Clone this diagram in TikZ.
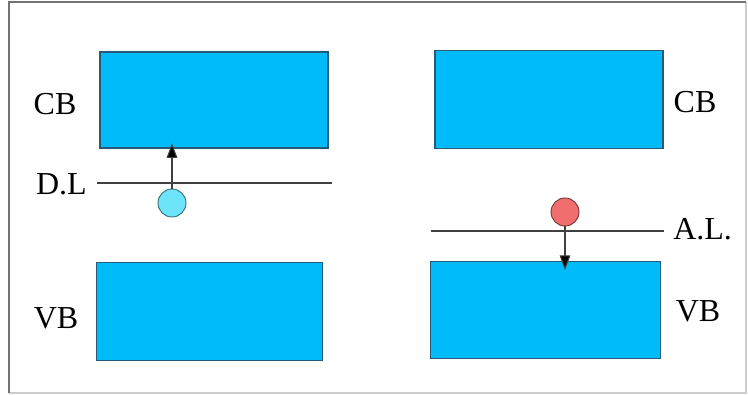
\documentclass[tikz,border=0pt]{standalone}
\usepackage{fontspec}
\setmainfont{Liberation Serif}
\usetikzlibrary{arrows.meta}
\definecolor{bandblue}{RGB}{0,187,250}
\definecolor{bandedge}{RGB}{40,90,120}
\definecolor{donorc}{RGB}{110,228,250}
\definecolor{acceptc}{RGB}{240,110,110}
\tikzset{
  band/.style={draw=bandedge, line width=0.9pt, fill=bandblue, minimum width=#1, inner sep=0pt},
  lvl/.style={draw=black!75, line width=0.9pt},
  carrier/.style={circle, draw=#1!50!black, line width=0.7pt, minimum size=21pt, inner sep=0pt},
  lbl/.style={font=\fontsize{24}{27}\selectfont, inner sep=0pt},
  jump/.style={draw=black!75, line width=0.8pt, -{Triangle[length=11pt,width=8pt,fill=black]}}
}
\begin{document}
\begin{tikzpicture}[x=0.75pt,y=-0.75pt]
\useasboundingbox (0,0) rectangle (748,395);
% frame
\draw[black!20, line width=1pt] (746,2) -- (746,393) -- (9,393);
\draw[black!55, line width=1.5pt] (9,393) -- (9,2) -- (746,2);
% left panel
\node[band=171pt, minimum height=72pt] (cbL) at (214,100) {};
\node[band=170pt, minimum height=73pt] (vbL) at (209.5,311.5) {};
\node[lbl] (cbLt) at (55,104) {CB};
\node[lbl] (vbLt) at (56,318) {VB};
\node[lbl, anchor=east] (dlt) at (87,184) {D.L};
\coordinate (dl1) at (97,183);
\coordinate (dl2) at (332,183);
\draw[lvl] (dl1) -- (dl2);
\node[carrier=donorc, fill=donorc] (don) at (172,203) {};
\coordinate (dtip) at ([yshift=4pt]cbL.south -| don);
\draw[jump] (don.north) -- (dtip);
% right panel
\node[band=171pt, minimum height=74pt] (cbR) at (549,99.5) {};
\node[band=172pt, minimum height=73pt] (vbR) at (545.5,310) {};
\node[lbl] (cbRt) at (695,102) {CB};
\node[lbl] (vbRt) at (698,311) {VB};
\node[lbl, anchor=west] (alt) at (673,229) {A.L.};
\coordinate (al1) at (431,231);
\coordinate (al2) at (664,231);
\draw[lvl] (al1) -- (al2);
\node[carrier=acceptc, fill=acceptc] (acc) at (565,212) {};
\coordinate (atip) at ([yshift=-7pt]vbR.north -| acc);
\draw[jump] (acc.south) -- (atip);
\end{tikzpicture}
\end{document}
